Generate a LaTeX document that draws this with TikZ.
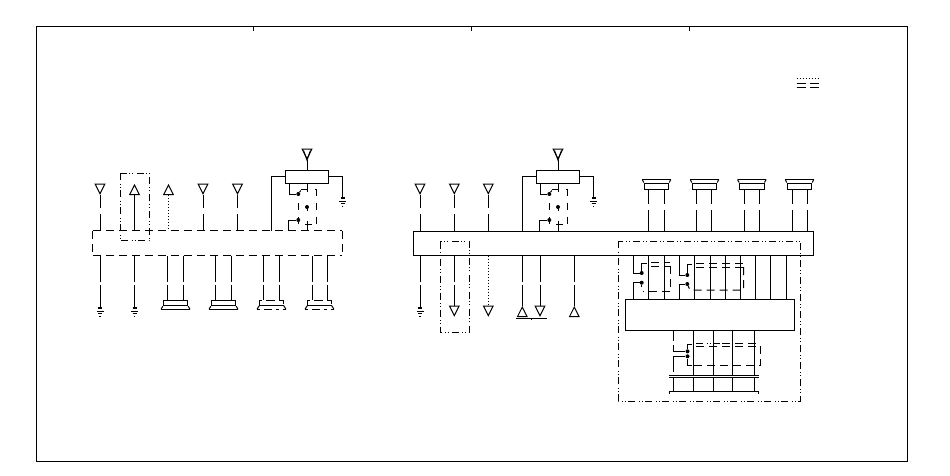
\documentclass[tikz,border=0pt]{standalone}
\usepackage{amsmath}
\usetikzlibrary{shapes.geometric,calc}
\tikzset{
  wire/.style={line width=1pt},
  dotwire/.style={line width=1pt, dash pattern=on 1pt off 2pt},
  gapup/.style={dash pattern=on 13pt off 6pt on 300pt},
  gapdown/.style={dash pattern=on 26pt off 3pt on 300pt},
  gapcap/.style={dash pattern=on 14pt off 6pt on 300pt},
  loopline/.style={line width=1pt, dash pattern=on 8pt off 5pt},
  swline/.style={line width=1pt, dash pattern=on 7pt off 7pt},
  groupline/.style={line width=1pt, dash pattern=on 7pt off 3.5pt on 1pt off 2pt on 1pt off 2.5pt},
  busdash/.style={line width=1pt, dash pattern=on 8pt off 5pt},
  box/.style={draw, line width=1pt, inner sep=0pt},
  contact/.style={fill, circle, inner sep=0pt, minimum size=4pt},
  sigdown/.style={draw, line width=1pt, isosceles triangle, isosceles triangle stretches,
    shape border rotate=270, minimum width=9.5pt, minimum height=9.5pt, inner sep=0pt, anchor=apex},
  sigup/.style={draw, line width=1pt, isosceles triangle, isosceles triangle stretches,
    shape border rotate=90, minimum width=9.5pt, minimum height=9.5pt, inner sep=0pt, anchor=lower side}
}
% ground symbol hanging under a named coordinate
\newcommand\earth[1]{
  \draw[line width=2pt] ($(#1)+(-2,0)$) -- ($(#1)+(2,0)$);
  \draw[wire] ($(#1)+(-3.5,3)$) -- ($(#1)+(3.5,3)$);
  \draw[wire] ($(#1)+(-2,5.5)$) -- ($(#1)+(2,5.5)$);
  \draw[wire] ($(#1)+(-.7,8)$) -- ($(#1)+(.7,8)$);
}
\begin{document}
\begin{tikzpicture}[x=1pt, y=-1pt]
  \useasboundingbox (0,0) rectangle (950,475);

  % frame
  \node[box, minimum width=871.3pt, minimum height=435pt] (frame) at (472,243.5) {};
  \foreach \i/\xa in {1/253, 2/471, 3/689}{
    \coordinate (tick\i) at (\xa,31);
    \draw[wire] (tick\i) -- (tick\i |- frame.north);
  }

  % legend
  \coordinate (lega) at (796.7,78.3);
  \coordinate (legb) at (819.3,78.3);
  \draw[dotwire] (lega) -- (legb);
  \foreach \xa in {796.7, 810}{
    \draw[wire] (\xa,83.7) -- +(9,0);
    \draw[wire] (\xa,87.7) -- +(9,0);
  }

  % buses
  \node[minimum width=249pt, minimum height=24.5pt, inner sep=0pt] (busl) at (217.5,243.4) {};
  \draw[busdash] (busl.north west) -- (busl.north east);
  \draw[busdash] (busl.north west) -- (busl.south west);
  \draw[busdash] (busl.south west) -- (busl.south east);
  \draw[busdash] (busl.north east) -- (busl.south east);
  \node[box, minimum width=400pt, minimum height=24.5pt] (busr) at (613.3,243.4) {};

  % left side, upper signals
  \foreach \i/\xa in {1/100, 4/203, 5/237.5}{
    \node[sigdown] (tl\i) at (\xa,195) {};
    \draw[wire, gapup] (tl\i.apex) -- (tl\i.apex |- busl.north);
  }
  \node[sigup] (tl2) at (134.5,195) {};
  \draw[wire] (tl2.lower side) -- (tl2.lower side |- busl.north);
  \node[sigup] (tl3) at (168.5,195) {};
  \draw[dotwire] (tl3.lower side) -- (tl3.lower side |- busl.north);
  \draw[groupline] (120.5,173) rectangle (149.5,240.5);

  % right side, upper signals
  \foreach \i/\xa in {1/420, 2/454.3, 3/488.3}{
    \node[sigdown] (tr\i) at (\xa,195) {};
    \draw[wire, gapup] (tr\i.apex) -- (tr\i.apex |- busr.north);
  }

  % switch groups
  \foreach \g/\xa in {l/307, r/558}{
    \node[box, minimum width=43.4pt, minimum height=13pt] (sw\g) at (\xa,176.8) {};
    \node[sigdown] (ant\g) at (\xa,160) {};
    \draw[wire] (ant\g.apex) -- (sw\g.north);
    \draw[wire] (\xa-3.5,150.5) -- (\xa,160) -- (\xa+3.5,150.5);
    \coordinate (swa\g) at (\xa-35.3,231);
    \coordinate (gnd\g) at (\xa+35.7,198);
    \draw[wire] (sw\g.west) -| (swa\g);
    \draw[wire] (sw\g.east) -| (gnd\g);
    \earth{gnd\g}
    \node[contact] (cu\g) at (\xa-8.7,194) {};
    \node[contact] (cd\g) at (\xa-8.7,220) {};
    \node[contact] (cm\g) at (\xa,207) {};
    \draw[wire] (\xa-17.7,183.5) |- (cu\g);
    \draw[wire] (cu\g) -- +(2.5,-3.5);
    \draw[wire] (\xa-18.5,231) |- (cd\g);
    \draw[wire, dash pattern=on 8pt off 14pt on 5pt off 10pt on 11pt] (sw\g.south) -- (\xa,231);
    \draw[swline] (\xa-8.7,203) -- (\xa-8.7,224) -- (\xa+9,224);
    \draw[swline] (\xa-6,189.5) -- (\xa+9,189.5) -- (\xa+9,224);
  }

  % left side, lower signals
  \foreach \i/\xa in {1/100, 2/134.5}{
    \coordinate (gl\i) at (\xa,308);
    \draw[wire, gapdown] (gl\i |- busl.south) -- (gl\i);
    \earth{gl\i}
  }
  \foreach \i/\xa/\xb/\xc in {1/175.5/167.4/183.2, 2/223.5/215.3/231.3}{
    \node[box, minimum width=24.4pt, minimum height=5.5pt] (tm\i) at (\xa,303) {};
    \draw[line width=1.4pt] (\xa-14.5,309.3) -- (\xa+14.5,309.3);
    \draw[wire] (tm\i.south west) -- (\xa-14.5,309.3);
    \draw[wire] (tm\i.south east) -- (\xa+14.5,309.3);
    \draw[wire, gapdown] (\xb,255.7) -- (\xb,255.7 |- tm\i.north);
    \draw[wire, gapdown] (\xc,255.7) -- (\xc,255.7 |- tm\i.north);
  }
  \foreach \i/\xa/\xb/\xc in {3/271.5/263.3/279.3, 4/319.5/312.7/327.3}{
    \node[minimum width=24.4pt, minimum height=5.5pt, inner sep=0pt] (tm\i) at (\xa,303) {};
    \draw[wire, dash pattern=on 9pt off 4pt] (tm\i.south west) -- (tm\i.north west) -- (tm\i.north east) -- (tm\i.south east);
    \draw[wire] (tm\i.south west) -- (tm\i.south east);
    \draw[wire, dash pattern=on 3pt off 4pt on 8pt off 3.5pt] (\xa-14.5,309.3) -- (\xa+14.5,309.3);
    \draw[wire] (tm\i.south west) -- (\xa-14.5,309.3);
    \draw[wire] (tm\i.south east) -- (\xa+14.5,309.3);
    \draw[wire, gapdown] (\xb,255.7) -- (\xb,255.7 |- tm\i.north);
    \draw[wire, gapdown] (\xc,255.7) -- (\xc,255.7 |- tm\i.north);
  }

  % right side, lower signals
  \coordinate (gr1) at (420,308);
  \draw[wire, gapdown] (gr1 |- busr.south) -- (gr1);
  \earth{gr1}
  \node[sigdown] (br2) at (454.3,317) {};
  \draw[wire, gapdown] (454.3,255.7) -- (br2.lower side);
  \draw[groupline] (440.3,241.7) rectangle (469.3,332.3);
  \node[sigdown] (br3) at (488.3,317) {};
  \draw[dotwire] (488.3,255.7) -- (br3.lower side);
  \node[sigup] (br4) at (522.3,317) {};
  \draw[wire, gapdown] (522.3,255.7) -- (br4.apex);
  \node[sigdown] (br5) at (540,317) {};
  \draw[wire, gapdown] (540,255.7) -- (br5.lower side);
  \node[sigup] (br6) at (574.3,317) {};
  \draw[wire, gapdown] (574.3,255.7) -- (br6.apex);
  \coordinate (brl) at (516.3,318.5);
  \coordinate (brr) at (546.7,318.5);
  \draw[wire] (brl) -- (brr);
  \coordinate (brd) at (531.7,319);
  \draw[wire] (brd) -- +(0,1);

  % connector caps on the main bus
  \foreach \i/\xa/\xb/\xc in {1/656.5/648.3/664.3, 2/704.5/696.7/711.7, 3/751.8/744.3/759.3, 4/799.5/792.7/807.7}{
    \node[box, minimum width=24.4pt, minimum height=6pt] (cap\i) at (\xa,186) {};
    \draw[line width=1.4pt] (\xa-14.3,179.5) -- (\xa+14.3,179.5);
    \draw[wire] (cap\i.north west) -- (\xa-14.3,179.5);
    \draw[wire] (cap\i.north east) -- (\xa+14.3,179.5);
    \draw[wire, gapcap] (\xb,189 |- cap\i.south) -- (\xb,189 |- busr.north);
    \draw[wire, gapcap] (\xc,189 |- cap\i.south) -- (\xc,189 |- busr.north);
  }

  % block under the bus
  \node[box, minimum width=169pt, minimum height=31pt] (blk) at (709.8,314.8) {};
  \draw[groupline] (618.3,241) rectangle (800.7,401);
  \foreach \xa in {648.3, 664.3, 694.3, 710, 725.3, 740.3, 755.3, 770.7, 786}{
    \draw[wire] (\xa,260 |- busr.south) -- (\xa,260 |- blk.north);
  }

  % first pair of contacts
  \node[contact] (ka) at (641.7,273) {};
  \node[contact] (kb) at (641.7,282.7) {};
  \draw[wire] (633.7,255.7) |- (ka);
  \draw[wire] (633.7,299.3) |- (kb);
  \draw[wire] (ka) |- (647,263.5);
  \draw[loopline] (651,262) -- (670,262);
  \draw[loopline] (651,266) -- (670,266);
  \draw[loopline] (670,266) -- (670,291.7) -- (643,291.7);
  \draw[wire, dash pattern=on 2pt off 6pt] (kb) -- (641.7,291.7);

  % second pair of contacts
  \node[contact] (kc) at (687.3,275) {};
  \node[contact] (kd) at (687.3,284) {};
  \draw[wire] (679.3,255.7) |- (kc);
  \draw[wire] (679.3,299.3) |- (kd);
  \draw[wire] (kc) |- (692,264.5);
  \draw[loopline] (696,263.5) -- (743.5,263.5);
  \draw[loopline] (696,267) -- (743.5,267);
  \draw[loopline] (743.5,267) -- (743.5,290) -- (690,290) -- (kd);

  % lower terminal
  \coordinate (tba) at (669.3,375.3);
  \coordinate (tbb) at (758.7,375.3);
  \coordinate (tca) at (669.3,377.5);
  \coordinate (tcb) at (758.7,377.5);
  \coordinate (tda) at (669.3,391.7);
  \coordinate (tdb) at (758.7,391.7);
  \draw[wire] (tba) -- (tbb);
  \draw[wire] (tca) -- (tcb);
  \draw[wire] (tda) -- (tdb);
  \draw[wire] (tda) -- +(0,2);
  \draw[wire] (tdb) -- +(0,2);
  \foreach \xa in {673.3, 693.3, 713.3, 732.3, 754.3}{
    \draw[wire] (\xa,377.5) -- (\xa,377.5 |- tda);
  }
  \foreach \xa in {693.3, 713.3, 732.3, 754.3}{
    \draw[wire] (\xa,340 |- blk.south) -- (\xa,375.3);
  }
  \node[contact] (ke) at (687.5,351.3) {};
  \node[contact] (kf) at (687.5,356.3) {};
  \draw[wire, dash pattern=on 11pt off 4pt on 30pt] (673.3,330.3) |- (ke);
  \draw[wire] (673.3,372) |- (kf);
  \draw[wire] (ke) |- (692,344);
  \draw[groupline] (696,343.5) -- (722,343.5);
  \draw[loopline] (722,343.5) -- (760.5,343.5);
  \draw[loopline] (696,346) -- (760.5,346);
  \draw[loopline] (760.5,346) -- (760.5,365.5) -- (692,365.5);
  \draw[wire] (692,365.5) -| (kf);
\end{tikzpicture}
\end{document}
